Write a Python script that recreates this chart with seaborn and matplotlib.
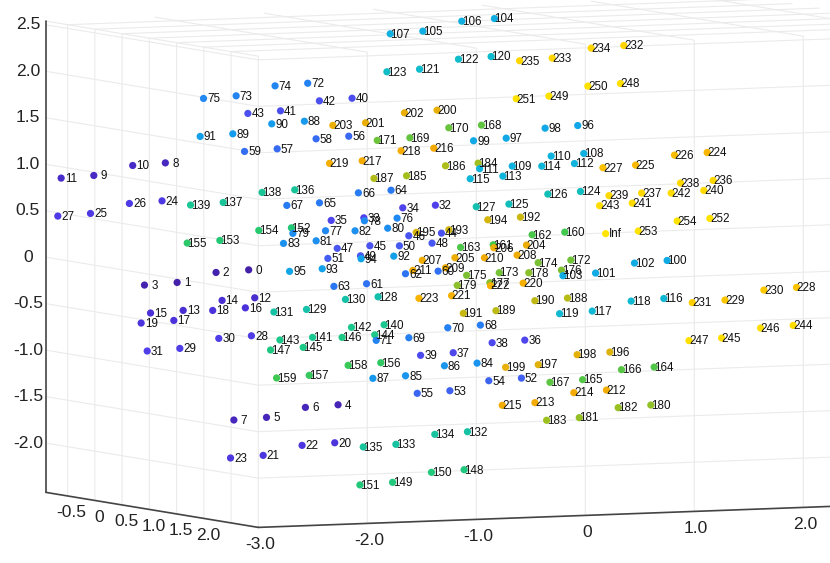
import numpy as np
import matplotlib
matplotlib.use("Agg")
import matplotlib.pyplot as plt
from matplotlib.colors import LinearSegmentedColormap
from mpl_toolkits.mplot3d import proj3d
import seaborn as sns

sns.set_theme(style="white")
plt.rcParams["font.family"] = ["Liberation Sans", "DejaVu Sans"]
plt.rcParams["grid.color"] = "#ebebeb"
plt.rcParams["grid.linewidth"] = 0.8

# ---------------- data ----------------
point_labels = """
0 1 2 3 4 5 6 7 8 9 10 11 12 13 14 15
16 17 18 19 20 21 22 23 24 25 26 27 28 29 30 31
32 33 34 35 36 37 38 39 40 41 42 43 44 45 46 47
48 49 50 51 52 53 54 55 56 57 58 59 60 61 62 63
64 65 66 67 68 69 70 71 72 73 74 75 76 77 78 79
80 81 82 83 84 85 86 87 88 89 90 91 92 93 94 95
96 97 98 99 100 101 102 103 104 105 106 107 108 109 110 111
112 113 114 115 116 117 118 119 120 121 122 123 124 125 126 127
128 129 130 131 132 133 134 135 136 137 138 139 140 141 142 143
144 145 146 147 148 149 150 151 152 153 154 155 156 157 158 159
160 161 162 163 164 165 166 167 168 169 170 171 172 173 174 175
176 177 178 179 180 181 182 183 184 185 186 187 188 189 190 191
192 193 194 195 196 197 198 199 200 201 202 203 204 205 206 207
208 209 210 211 212 213 214 215 216 217 218 219 220 221 222 223
224 225 226 227 228 229 230 231 232 233 234 235 236 237 238 239
240 241 242 243 244 245 246 247 248 249 250 251 252 253 254 Inf
""".split()

x_vals = [
    -1.330, -1.933, -1.605, -2.208, -0.577, -1.180, -0.852, -1.455, -2.032, -2.635, -2.307, -2.910, -1.279, -1.882, -1.554, -2.157,
    -1.358, -1.961, -1.633, -2.236, -0.605, -1.208, -0.880, -1.483, -2.060, -2.663, -2.335, -2.938, -1.307, -1.910, -1.582, -2.185,
    0.243, -0.360, -0.032, -0.635, 0.996, 0.393, 0.721, 0.118, -0.459, -1.062, -0.734, -1.337, 0.294, -0.309, 0.019, -0.584,
    0.215, -0.388, -0.060, -0.663, 0.968, 0.365, 0.693, 0.090, -0.487, -1.090, -0.762, -1.365, 0.266, -0.337, -0.009, -0.612,
    -0.131, -0.734, -0.406, -1.009, 0.622, 0.019, 0.347, -0.256, -0.833, -1.436, -1.108, -1.711, -0.080, -0.683, -0.355, -0.958,
    -0.159, -0.762, -0.434, -1.037, 0.594, -0.009, 0.319, -0.284, -0.861, -1.464, -1.136, -1.739, -0.108, -0.711, -0.383, -0.986,
    1.442, 0.839, 1.167, 0.564, 2.195, 1.592, 1.920, 1.317, 0.740, 0.137, 0.465, -0.138, 1.493, 0.890, 1.218, 0.615,
    1.414, 0.811, 1.139, 0.536, 2.167, 1.564, 1.892, 1.289, 0.712, 0.109, 0.437, -0.166, 1.465, 0.862, 1.190, 0.587,
    -0.240, -0.843, -0.515, -1.118, 0.513, -0.090, 0.238, -0.365, -0.942, -1.545, -1.217, -1.820, -0.189, -0.792, -0.464, -1.067,
    -0.268, -0.871, -0.543, -1.146, 0.485, -0.118, 0.210, -0.393, -0.970, -1.573, -1.245, -1.848, -0.217, -0.820, -0.492, -1.095,
    1.333, 0.730, 1.058, 0.455, 2.086, 1.483, 1.811, 1.208, 0.631, 0.028, 0.356, -0.247, 1.384, 0.781, 1.109, 0.506,
    1.305, 0.702, 1.030, 0.427, 2.058, 1.455, 1.783, 1.180, 0.603, 0.000, 0.328, -0.275, 1.356, 0.753, 1.081, 0.478,
    0.959, 0.356, 0.684, 0.081, 1.712, 1.109, 1.437, 0.834, 0.257, -0.346, -0.018, -0.621, 1.010, 0.407, 0.735, 0.132,
    0.931, 0.328, 0.656, 0.053, 1.684, 1.081, 1.409, 0.806, 0.229, -0.374, -0.046, -0.649, 0.982, 0.379, 0.707, 0.104,
    2.532, 1.929, 2.257, 1.654, 3.285, 2.682, 3.010, 2.407, 1.830, 1.227, 1.555, 0.952, 2.583, 1.980, 2.308, 1.705,
    2.504, 1.901, 2.229, 1.626, 3.257, 2.654, 2.982, 2.379, 1.802, 1.199, 1.527, 0.924, 2.555, 1.952, 2.280, 1.677,
]

y_vals = [
    -0.518, -0.625, -0.567, -0.674, -0.384, -0.491, -0.433, -0.540, -0.643, -0.750, -0.692, -0.799, -0.509, -0.616, -0.558, -0.665,
    -0.523, -0.630, -0.572, -0.679, -0.389, -0.496, -0.438, -0.545, -0.648, -0.755, -0.697, -0.804, -0.514, -0.621, -0.563, -0.670,
    -0.238, -0.345, -0.287, -0.394, -0.104, -0.211, -0.153, -0.260, -0.363, -0.470, -0.412, -0.519, -0.229, -0.336, -0.278, -0.385,
    -0.243, -0.350, -0.292, -0.399, -0.109, -0.216, -0.158, -0.265, -0.368, -0.475, -0.417, -0.524, -0.234, -0.341, -0.283, -0.390,
    -0.304, -0.411, -0.353, -0.460, -0.170, -0.277, -0.219, -0.326, -0.429, -0.536, -0.478, -0.585, -0.295, -0.402, -0.344, -0.451,
    -0.309, -0.416, -0.358, -0.465, -0.175, -0.282, -0.224, -0.331, -0.434, -0.541, -0.483, -0.590, -0.300, -0.407, -0.349, -0.456,
    -0.024, -0.131, -0.073, -0.180, 0.110, 0.003, 0.061, -0.046, -0.149, -0.256, -0.198, -0.305, -0.015, -0.122, -0.064, -0.171,
    -0.029, -0.136, -0.078, -0.185, 0.105, -0.002, 0.056, -0.051, -0.154, -0.261, -0.203, -0.310, -0.020, -0.127, -0.069, -0.176,
    -0.324, -0.431, -0.373, -0.480, -0.190, -0.297, -0.239, -0.346, -0.449, -0.556, -0.498, -0.605, -0.315, -0.422, -0.364, -0.471,
    -0.329, -0.436, -0.378, -0.485, -0.195, -0.302, -0.244, -0.351, -0.454, -0.561, -0.503, -0.610, -0.320, -0.427, -0.369, -0.476,
    -0.044, -0.151, -0.093, -0.200, 0.090, -0.017, 0.041, -0.066, -0.169, -0.276, -0.218, -0.325, -0.035, -0.142, -0.084, -0.191,
    -0.049, -0.156, -0.098, -0.205, 0.085, -0.022, 0.036, -0.071, -0.174, -0.281, -0.223, -0.330, -0.040, -0.147, -0.089, -0.196,
    -0.110, -0.217, -0.159, -0.266, 0.024, -0.083, -0.025, -0.132, -0.235, -0.342, -0.284, -0.391, -0.101, -0.208, -0.150, -0.257,
    -0.115, -0.222, -0.164, -0.271, 0.019, -0.088, -0.030, -0.137, -0.240, -0.347, -0.289, -0.396, -0.106, -0.213, -0.155, -0.262,
    0.170, 0.063, 0.121, 0.014, 0.304, 0.197, 0.255, 0.148, 0.045, -0.062, -0.004, -0.111, 0.179, 0.072, 0.130, 0.023,
    0.165, 0.058, 0.116, 0.009, 0.299, 0.192, 0.250, 0.143, 0.040, -0.067, -0.009, -0.116, 0.174, 0.067, 0.125, 0.018,
]

z_vals = [
    -0.171, -0.291, -0.192, -0.312, -1.642, -1.762, -1.663, -1.783, 0.998, 0.878, 0.977, 0.857, -0.473, -0.593, -0.494, -0.614,
    -0.579, -0.699, -0.600, -0.720, -2.050, -2.170, -2.071, -2.191, 0.590, 0.470, 0.569, 0.449, -0.881, -1.001, -0.902, -1.022,
    0.484, 0.364, 0.463, 0.343, -0.987, -1.107, -1.008, -1.128, 1.653, 1.533, 1.632, 1.512, 0.182, 0.062, 0.161, 0.041,
    0.076, -0.044, 0.055, -0.065, -1.395, -1.515, -1.416, -1.536, 1.245, 1.125, 1.224, 1.104, -0.226, -0.346, -0.247, -0.367,
    0.655, 0.535, 0.634, 0.514, -0.816, -0.936, -0.837, -0.957, 1.824, 1.704, 1.803, 1.683, 0.353, 0.233, 0.332, 0.212,
    0.247, 0.127, 0.226, 0.106, -1.224, -1.344, -1.245, -1.365, 1.416, 1.296, 1.395, 1.275, -0.055, -0.175, -0.076, -0.196,
    1.310, 1.190, 1.289, 1.169, -0.161, -0.281, -0.182, -0.302, 2.479, 2.359, 2.458, 2.338, 1.008, 0.888, 0.987, 0.867,
    0.902, 0.782, 0.881, 0.761, -0.569, -0.689, -0.590, -0.710, 2.071, 1.951, 2.050, 1.930, 0.600, 0.480, 0.579, 0.459,
    -0.489, -0.609, -0.510, -0.630, -1.960, -2.080, -1.981, -2.101, 0.680, 0.560, 0.659, 0.539, -0.791, -0.911, -0.812, -0.932,
    -0.897, -1.017, -0.918, -1.038, -2.368, -2.488, -2.389, -2.509, 0.272, 0.152, 0.251, 0.131, -1.199, -1.319, -1.220, -1.340,
    0.166, 0.046, 0.145, 0.025, -1.305, -1.425, -1.326, -1.446, 1.335, 1.215, 1.314, 1.194, -0.136, -0.256, -0.157, -0.277,
    -0.242, -0.362, -0.263, -0.383, -1.713, -1.833, -1.734, -1.854, 0.927, 0.807, 0.906, 0.786, -0.544, -0.664, -0.565, -0.685,
    0.337, 0.217, 0.316, 0.196, -1.134, -1.254, -1.155, -1.275, 1.506, 1.386, 1.485, 1.365, 0.035, -0.085, 0.014, -0.106,
    -0.071, -0.191, -0.092, -0.212, -1.542, -1.662, -1.563, -1.683, 1.098, 0.978, 1.077, 0.957, -0.373, -0.493, -0.394, -0.514,
    0.992, 0.872, 0.971, 0.851, -0.479, -0.599, -0.500, -0.620, 2.161, 2.041, 2.140, 2.020, 0.690, 0.570, 0.669, 0.549,
    0.584, 0.464, 0.563, 0.443, -0.887, -1.007, -0.908, -1.028, 1.753, 1.633, 1.732, 1.612, 0.282, 0.162, 0.261, 0.141,
]

# colour value of each point = its code (0..255)
color_codes = list(range(256))
cmap_stops = [0.0, 0.06, 0.125, 0.19, 0.25, 0.32, 0.375, 0.44, 0.48, 0.50, 0.56, 0.60,
              0.625, 0.66, 0.69, 0.72, 0.75, 0.78, 0.85, 0.875, 0.90, 0.91, 0.97, 1.0]
cmap_colors = ["#4420a8", "#4a30d8", "#5040ea", "#4858f0", "#2a78f2", "#1c90f0",
               "#10a6e8", "#10b4dc", "#10bcc8", "#14c0ac", "#1cc88c", "#24c874",
               "#40c850", "#62c440", "#80c030", "#a0c020", "#c8b810", "#e8b008",
               "#f5aa00", "#f8b400", "#fcc800", "#ffd400", "#ffe000", "#ffe400"]

x_ticks = [-3, -2, -1, 0, 1, 2, 3]
x_tick_labels = ["-3.0", "-2.0", "-1.0", "0", "1.0", "2.0", ""]
y_ticks = [-0.5, 0, 0.5, 1.0, 1.5, 2.0, 2.5]
y_tick_labels = ["-0.5", "0", "0.5", "1.0", "1.5", "2.0", ""]
z_ticks = [-2.0, -1.5, -1.0, -0.5, 0, 0.5, 1.0, 1.5, 2.0, 2.5]
z_tick_labels = ["-2.0", "-1.5", "-1.0", "-0.5", "0", "0.5", "1.0", "1.5", "2.0", "2.5"]

x_range = (-3.0, 3.4)
y_range = (-0.9, 3.0)
z_range = (-2.53, 2.54)

# ---------------- figure ----------------
W, H = 830, 563
fig = plt.figure(figsize=(W / 100, H / 100), dpi=100)
fig.patch.set_facecolor("white")
ax = fig.add_axes([0, 0, 1, 1], projection="3d", proj_type="ortho",
                  computed_zorder=False)
ax.set_facecolor("white")
ax.set_xlim(*x_range)
ax.set_ylim(*y_range)
ax.set_zlim(*z_range)
ax.set_box_aspect((771.8, 498.4, 473.0))
ax.view_init(elev=-4.46, azim=-64.75)

cmap = LinearSegmentedColormap.from_list("codes", list(zip(cmap_stops, cmap_colors)))
ax.scatter(x_vals, y_vals, z_vals, c=color_codes, cmap=cmap, vmin=0, vmax=255,
           s=27, linewidths=0, depthshade=False, alpha=1, zorder=2)

ax.set_xticks(x_ticks)
ax.set_yticks(y_ticks)
ax.set_zticks(z_ticks)
ax.set_xticklabels([""] * len(x_ticks))
ax.set_yticklabels([""] * len(y_ticks))
ax.set_zticklabels([""] * len(z_ticks))
ax.grid(True)
for axis in (ax.xaxis, ax.yaxis, ax.zaxis):
    axis.set_ticks_position("lower")
    axis.set_label_position("lower")
    axis.set_pane_color((1, 1, 1, 0))
    axis.pane.set_edgecolor("#e3e3e3")
    axis._axinfo["tick"]["inward_factor"] = 0
    axis._axinfo["tick"]["outward_factor"] = 0
    axis._axinfo["grid"]["color"] = "#ebebeb"
    axis._axinfo["grid"]["linewidth"] = 0.8
    axis.line.set_color("#444444")
    axis.line.set_linewidth(1.2)

# ---------------- place the scene to match the reference framing ----------------
corner_a = (x_range[0], y_range[1], z_range[0])
corner_c = (2.0, y_range[1], z_range[0])
target_a = np.array([258.3, 527.4])
target_c = np.array([803.3, 507.4])


def to_px(pt):
    xs, ys, _ = proj3d.proj_transform(pt[0], pt[1], pt[2], ax.get_proj())
    dx, dy = ax.transData.transform((xs, ys))
    return np.array([dx, H - dy])


for _ in range(3):
    fig.canvas.draw()
    pa, pc = to_px(corner_a), to_px(corner_c)
    bb = ax.get_position()
    side = bb.width * W
    cen = np.array([(bb.x0 + bb.width / 2) * W, H - (bb.y0 + bb.height / 2) * H])
    s = np.linalg.norm(target_c - target_a) / np.linalg.norm(pc - pa)
    new_cen = target_a - s * (pa - cen)
    new_side = side * s
    ax.set_position([(new_cen[0] - new_side / 2) / W,
                     (H - new_cen[1] - new_side / 2) / H,
                     new_side / W, new_side / H])
fig.canvas.draw()

# ---------------- texts: point labels and tick labels (projected by mplot3d) ----------------
M = ax.get_proj()


def proj2d(xs, ys, zs):
    px, py, _ = proj3d.proj_transform(np.asarray(xs, float), np.asarray(ys, float),
                                      np.asarray(zs, float), M)
    return px, py


px, py = proj2d(x_vals, y_vals, z_vals)
for i, lab in enumerate(point_labels):
    ax.annotate(lab, xy=(px[i], py[i]), xycoords="data", xytext=(10, -0.8),
                textcoords="offset pixels", ha="center", va="center",
                fontsize=8.4, color="#111111", zorder=3, annotation_clip=False)

tick_style = dict(xycoords="data", textcoords="offset pixels", ha="center",
                  va="center", fontsize=12.6, color="#222222", zorder=3,
                  annotation_clip=False)
tx, ty = proj2d(x_ticks, [y_range[1]] * len(x_ticks), [z_range[0]] * len(x_ticks))
for i, lab in enumerate(x_tick_labels):
    if lab:
        ax.annotate(lab, xy=(tx[i], ty[i]), xytext=(1.5, -17), **tick_style)
tx, ty = proj2d([x_range[0]] * len(y_ticks), y_ticks, [z_range[0]] * len(y_ticks))
for i, lab in enumerate(y_tick_labels):
    if lab:
        ax.annotate(lab, xy=(tx[i], ty[i]), xytext=(4, -17), **tick_style)
tx, ty = proj2d([x_range[0]] * len(z_ticks), [y_range[0]] * len(z_ticks), z_ticks)
for i, lab in enumerate(z_tick_labels):
    if lab:
        ax.annotate(lab, xy=(tx[i], ty[i]), xytext=(-18, 0), **tick_style)

fig.savefig("out.png", dpi=100, facecolor="white")
